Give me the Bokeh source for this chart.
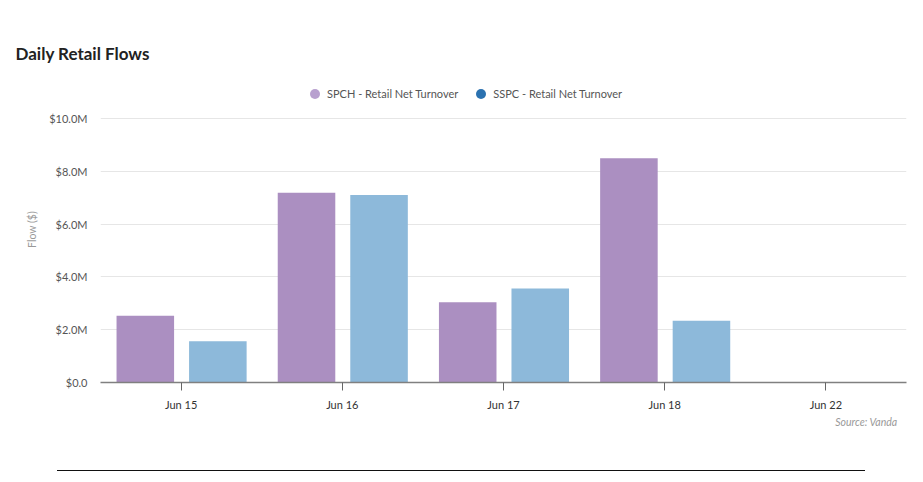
from bokeh.plotting import figure
from bokeh.models import (ColumnDataSource, FactorRange, Range1d, FixedTicker,
                          CustomJSTickFormatter, Legend, LegendItem, Title, Div)
from bokeh.transform import dodge
from bokeh.layouts import column
from bokeh.embed import file_html
from bokeh.resources import INLINE

dates = ["Jun 15", "Jun 16", "Jun 17", "Jun 18", "Jun 22"]
spch = [2.53, 7.19, 3.04, 8.50, 0.0]   # $M
sspc = [1.56, 7.11, 3.56, 2.34, 0.0]   # $M
y_ticks = [0, 2, 4, 6, 8, 10]
series_labels = ["SPCH - Retail Net Turnover", "SSPC - Retail Net Turnover"]

FONT = "Lato"

src = ColumnDataSource(dict(date=dates, spch=spch, sspc=sspc))
# legend proxy source: no drawable point (NaN value)
proxy = ColumnDataSource(dict(date=dates[:1], v=[float("nan")]))

p = figure(x_range=FactorRange(factors=dates, range_padding=0),
           y_range=Range1d(0, 11.6),
           frame_width=806, frame_height=306,
           output_backend="svg", toolbar_location=None,
           min_border_left=100, min_border_right=9, min_border_top=76,
           min_border_bottom=46)
p.title.visible = False
p.outline_line_color = None

r1 = p.vbar(x=dodge("date", -0.222, range=p.x_range), top="spch", width=0.357,
            source=src, color="#ab8fc1", line_color=None)
r2 = p.vbar(x=dodge("date", 0.228, range=p.x_range), top="sspc", width=0.357,
            source=src, color="#8db9da", line_color=None)

# legend proxies (circles)
c1 = p.scatter(x="date", y="v", source=proxy, marker="circle",
               color="#b8a0cf", line_color=None)
c2 = p.scatter(x="date", y="v", source=proxy, marker="circle",
               color="#2b72b0", line_color=None)

legend = Legend(items=[LegendItem(label=series_labels[0], renderers=[c1]),
                       LegendItem(label=series_labels[1], renderers=[c2])],
                orientation="horizontal", location=(202, 276),
                glyph_width=25, glyph_height=25, label_standoff=-2, spacing=10,
                padding=0, margin=0, border_line_color=None,
                background_fill_alpha=0,
                label_text_font=FONT, label_text_font_size="11px",
                label_text_color="#555555")
p.add_layout(legend, "center")

p.add_layout(Title(text="Daily Retail Flows", align="left", offset=-85,
                   text_font=FONT, text_font_size="17px", text_font_style="bold",
                   text_color="#222222", standoff=25), "above")

p.add_layout(Title(text="Source: Vanda", align="right", offset=9,
                   text_font=FONT, text_font_size="10.5px", text_font_style="italic",
                   text_color="#999999", standoff=0), "below")

# axes
p.yaxis.ticker = FixedTicker(ticks=y_ticks)
p.yaxis.formatter = CustomJSTickFormatter(
    code="return tick == 0 ? '$0.0' : '$' + tick.toFixed(1) + 'M';")
p.yaxis.axis_line_color = None
p.yaxis.major_tick_line_color = None
p.yaxis.minor_tick_line_color = None
p.yaxis.major_tick_out = 0
p.yaxis.major_label_standoff = 13
p.yaxis.major_label_text_font = FONT
p.yaxis.major_label_text_font_size = "11px"
p.yaxis.major_label_text_color = "#555555"
p.yaxis.axis_label = "Flow ($)"
p.yaxis.axis_label_text_font = FONT
p.yaxis.axis_label_text_font_style = "normal"
p.yaxis.axis_label_text_font_size = "10.5px"
p.yaxis.axis_label_text_color = "#999999"
p.yaxis.axis_label_standoff = 8

p.xaxis.axis_line_color = "#808080"
p.xaxis.axis_line_width = 1.5
p.xaxis.major_tick_line_color = "#666666"
p.xaxis.major_tick_out = 8
p.xaxis.major_tick_in = 0
p.xaxis.major_label_standoff = 7
p.xaxis.major_label_text_font = FONT
p.xaxis.major_label_text_font_size = "11px"
p.xaxis.major_label_text_color = "#333333"

p.xgrid.grid_line_color = None
p.ygrid.grid_line_color = "#e6e6e6"
p.ygrid.grid_line_width = 1

line = Div(text="", width=808, height=4, margin=(42, 0, 0, 57),
           styles={"border-top": "1.5px solid #111111"})

layout = column(p, line, spacing=0)

open("out.html", "w").write(file_html(layout, INLINE))
